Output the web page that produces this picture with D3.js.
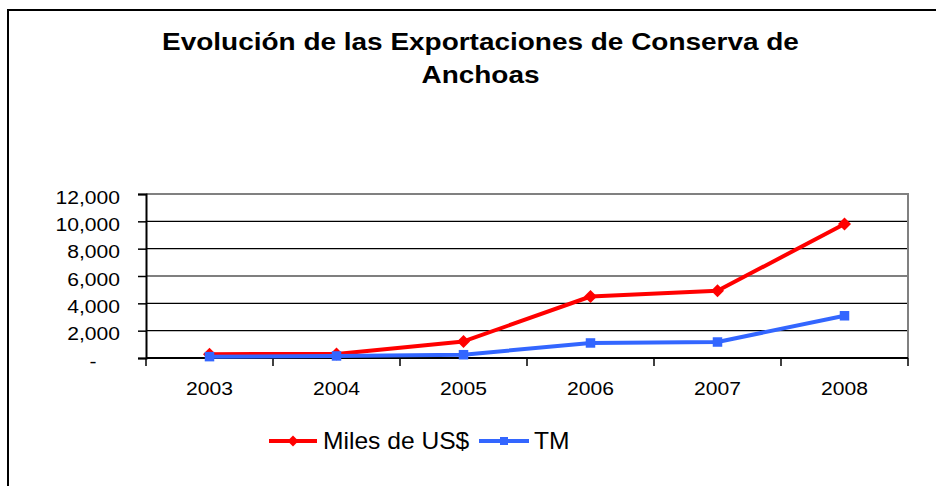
<!DOCTYPE html>
<html><head><meta charset="utf-8">
<script src="https://cdn.jsdelivr.net/npm/d3@7"></script>
<style>
html,body{margin:0;padding:0;background:#fff;}
svg{display:block;font-family:"Liberation Sans",Arial,sans-serif;}
</style></head>
<body>
<script>
const titleLines = ["Evolución de las Exportaciones de Conserva de", "Anchoas"];
const years = ["2003", "2004", "2005", "2006", "2007", "2008"];
const milesUSD = [280, 300, 1210, 4500, 4920, 9800];
const tm = [100, 150, 240, 1100, 1170, 3090];
const yTicks = [0, 2000, 4000, 6000, 8000, 10000, 12000];
const seriesNames = ["Miles de US$", "TM"];

(function () {
const W = 936, H = 486;
const svg = d3.select("body").append("svg").attr("width", W).attr("height", H);
svg.append("rect").attr("width", W).attr("height", H).attr("fill", "#fff");

// outer frame (right/bottom outside view)
svg.append("rect").attr("x", 8).attr("y", 10).attr("width", 960).attr("height", 500)
  .attr("fill", "none").attr("stroke", "#000").attr("stroke-width", 2);

const SX = 1.14;
const pLeft = 146, pRight = 908, pTop = 194, pBottom = 358;
const x = d3.scaleBand().domain(years).range([pLeft, pRight]).padding(0);
const y = d3.scaleLinear().domain([0, 12000]).range([pBottom, pTop]);

// title
const tg = svg.append("g");
titleLines.forEach((t, i) => {
  tg.append("text").attr("transform", `translate(480.5,${50 + i * 33}) scale(1.19,1)`)
    .attr("text-anchor", "middle").attr("font-weight", "bold").attr("font-size", 23.5)
    .attr("fill", "#000").text(t);
});

// gridlines
svg.append("g").selectAll("line").data(yTicks.filter(d => d > 0 && d < 12000)).join("line")
  .attr("x1", pLeft).attr("x2", pRight).attr("y1", d => y(d)).attr("y2", d => y(d))
  .attr("stroke", "#000").attr("stroke-width", 1.2);

// plot border top/right gray
svg.append("path").attr("d", `M${pLeft},${y(12000)}H${pRight}V${pBottom}`)
  .attr("fill", "none").attr("stroke", "#808080").attr("stroke-width", 2);

// y axis
const yAxis = d3.axisLeft(y).tickValues(yTicks).tickSize(8).tickPadding(0)
  .tickFormat(d => d === 0 ? "-\u00A0\u00A0\u00A0\u00A0" : d3.format(",")(d));
const gy = svg.append("g").attr("transform", `translate(${pLeft},0)`).call(yAxis);
gy.select(".domain").attr("stroke", "#000").attr("stroke-width", 2);
gy.selectAll(".tick line").attr("stroke", "#000").attr("stroke-width", 1.5);
gy.selectAll(".tick text").attr("x", null).attr("dy", null)
  .attr("transform", `translate(-26,9) scale(${SX},1)`)
  .attr("font-size", 18.5).attr("fill", "#000").attr("font-family", "Liberation Sans, Arial, sans-serif");

// x axis
const xAxis = d3.axisBottom(x).tickSize(0).tickSizeOuter(0);
const gx = svg.append("g").attr("transform", `translate(0,${pBottom})`).call(xAxis);
gx.select(".domain").attr("stroke", "#000").attr("stroke-width", 2).attr("d", `M${pLeft},0H${pRight}`);
gx.selectAll(".tick text").attr("y", null).attr("dy", null)
  .attr("transform", `translate(0,37) scale(${SX},1)`)
  .attr("font-size", 18.5).attr("fill", "#000").attr("font-family", "Liberation Sans, Arial, sans-serif");
const bounds = years.map(d => x(d)).concat([x(years[years.length - 1]) + x.bandwidth()]);
gx.append("g").selectAll("line").data(bounds).join("line")
  .attr("x1", d => d).attr("x2", d => d).attr("y1", 0).attr("y2", 8)
  .attr("stroke", "#000").attr("stroke-width", 1.5);

const cx = d => x(d) + x.bandwidth() / 2;
const line = d3.line().x((d, i) => cx(years[i])).y(d => y(d));

const red = "#FF0000", blue = "#3366FF";
function diamond(g, px, py, r, c) {
  g.append("path").attr("d", `M${px},${py - r}L${px + r},${py}L${px},${py + r}L${px - r},${py}Z`).attr("fill", c);
}
function square(g, px, py, s, c) {
  g.append("rect").attr("x", px - s / 2).attr("y", py - s / 2).attr("width", s).attr("height", s).attr("fill", c);
}

const ps = svg.append("g");
ps.append("path").datum(milesUSD).attr("d", line).attr("fill", "none").attr("stroke", red).attr("stroke-width", 4).attr("stroke-linejoin", "round");
milesUSD.forEach((v, i) => diamond(ps, cx(years[i]), y(v), 6.5, red));
ps.append("path").datum(tm).attr("d", line).attr("fill", "none").attr("stroke", blue).attr("stroke-width", 4).attr("stroke-linejoin", "round");
tm.forEach((v, i) => square(ps, cx(years[i]), y(v), 9.5, blue));

// legend
const lg = svg.append("g");
const ly = 441;
lg.append("line").attr("x1", 269).attr("x2", 317).attr("y1", ly).attr("y2", ly).attr("stroke", red).attr("stroke-width", 4);
diamond(lg, 293, ly, 5.5, red);
lg.append("text").attr("transform", `translate(323,449) scale(1.07,1)`).attr("font-size", 23).attr("fill", "#000").text(seriesNames[0]);
lg.append("line").attr("x1", 479).attr("x2", 529).attr("y1", ly).attr("y2", ly).attr("stroke", blue).attr("stroke-width", 4);
square(lg, 504, ly, 8, blue);
lg.append("text").attr("transform", `translate(534,449) scale(1.07,1)`).attr("font-size", 23).attr("fill", "#000").text(seriesNames[1]);
})();
</script>
</body></html>
